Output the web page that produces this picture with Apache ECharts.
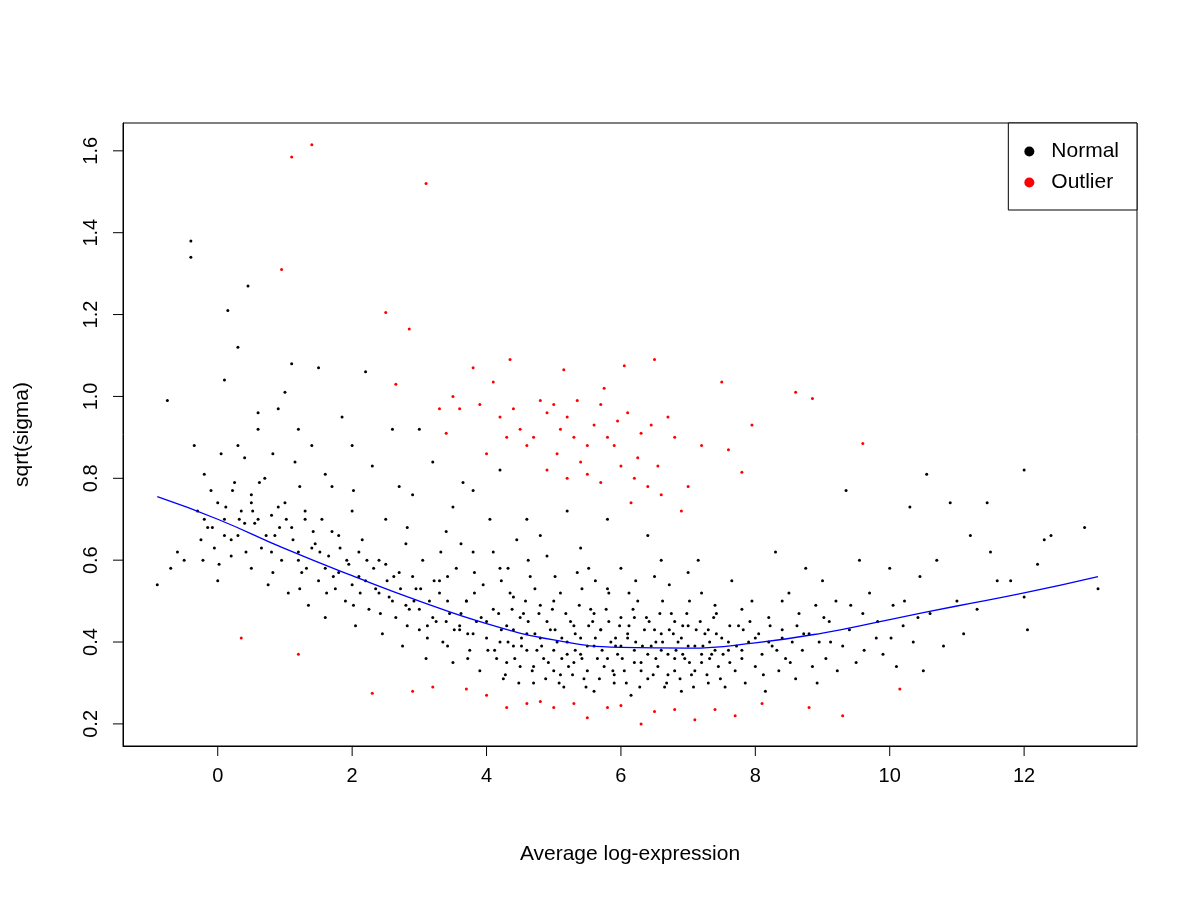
<!DOCTYPE html>
<html><head><meta charset="utf-8">
<script src="https://cdn.jsdelivr.net/npm/echarts@6/dist/echarts.min.js"></script>
<style>html,body{margin:0;background:#fff}#c{width:1200px;height:900px}</style>
</head><body><div id="c"></div>
<script>
const xTicks = [0,2,4,6,8,10,12];
const yTicks = [0.2,0.4,0.6,0.8,1.0,1.2,1.4,1.6];
const trend = [[-0.9,0.755],[0,0.70],[1,0.628],[2,0.562],[3,0.50],[4,0.445],[5,0.405],[6,0.387],[7,0.385],[8,0.398],[9,0.422],[10,0.455],[11,0.488],[12,0.52],[13.1,0.56]];
const outlier = [[1.1,1.585],[1.4,1.615],[3.1,1.52],[0.95,1.31],[2.5,1.205],[2.85,1.165],[2.65,1.03],[4.35,1.09],[3.8,1.07],[5.15,1.065],[6.05,1.075],[6.5,1.09],[7.5,1.035],[8.6,1.01],[8.85,0.995],[7.95,0.93],[9.6,0.885],[7.8,0.815],[0.35,0.41],[1.2,0.37],[2.3,0.275],[2.9,0.28],[3.2,0.29],[3.7,0.285],[4.0,0.27],[4.3,0.24],[4.6,0.25],[4.8,0.255],[5.0,0.24],[5.3,0.25],[5.5,0.215],[5.8,0.24],[6.0,0.245],[6.3,0.2],[6.5,0.23],[6.8,0.235],[7.1,0.21],[7.4,0.235],[7.7,0.22],[8.1,0.25],[8.8,0.24],[9.3,0.22],[10.15,0.285],
[3.5,1.0],[3.6,0.97],[3.9,0.98],[4.1,1.035],[4.2,0.95],[4.4,0.97],[4.5,0.92],[4.6,0.88],[4.7,0.9],[4.8,0.99],[4.9,0.96],[5.0,0.98],[5.05,0.86],[5.1,0.92],[5.2,0.95],[5.3,0.9],[5.35,0.99],[5.4,0.84],[5.5,0.81],[5.6,0.93],[5.7,0.98],[5.75,1.02],[5.8,0.9],[5.9,0.88],[5.95,0.94],[6.0,0.83],[6.1,0.96],[6.2,0.8],[6.25,0.85],[6.3,0.91],[6.4,0.78],[6.45,0.93],[6.55,0.83],[6.6,0.76],[6.7,0.95],[6.8,0.9],[7.0,0.78],[7.2,0.88],[4.0,0.86],[4.3,0.9],[3.3,0.97],[3.4,0.91],[5.5,0.88],[6.9,0.72],[7.6,0.87],[4.9,0.82],[5.2,0.8],[6.15,0.74],[5.7,0.79]];
const normal = [
[-0.9,0.54],[-0.75,0.99],[-0.7,0.58],[-0.6,0.62],[-0.5,0.6],[-0.4,1.38],[-0.4,1.34],[-0.35,0.88],[-0.3,0.72],[-0.25,0.65],[-0.2,0.81],[-0.15,0.68],[-0.1,0.77],[-0.05,0.63],[0,0.74],[0,0.55],[0.05,0.86],[0.1,0.7],[0.1,1.04],[0.15,1.21],[0.2,0.61],[0.25,0.79],[0.3,1.12],[0.3,0.66],[0.35,0.72],[0.4,0.85],[0.45,1.27],[0.5,0.58],[0.5,0.76],[0.55,0.69],[0.6,0.92],[0.65,0.63],[0.7,0.8],[0.75,0.54],[0.8,0.71],[0.85,0.66],[0.9,0.97],[0.95,0.6],[1.0,0.74],[1.0,1.01],[1.05,0.52],[1.1,0.68],[1.1,1.08],[1.15,0.84],[1.2,0.62],[1.25,0.57],[1.3,0.72],[1.35,0.49],[1.4,0.88],[1.45,0.64],[1.5,1.07],[1.5,0.55],[1.55,0.7],[1.6,0.46],[1.65,0.61],[1.7,0.78],[1.75,0.53],[1.8,0.66],[1.85,0.95],[1.9,0.5],[1.95,0.59],[2.0,0.72],[2.05,0.44],[2.1,0.56],[2.15,0.65],[2.2,1.06],[2.25,0.48],[2.3,0.83],[2.35,0.53],[2.4,0.6],[2.45,0.42],[2.5,0.7],[2.55,0.51],[2.6,0.92],[2.65,0.46],[2.7,0.57],[2.75,0.39],[2.8,0.64],[2.85,0.48],[2.9,0.76],[2.95,0.53],[3.0,0.43],[3.05,0.6],[3.1,0.36],[3.15,0.5],[3.2,0.84],[3.25,0.45],[3.3,0.55],[3.35,0.4],[3.4,0.67],[3.45,0.47],[3.5,0.35],[3.55,0.58],[3.6,0.43],[3.65,0.79],[3.7,0.5],[3.75,0.38],[3.8,0.62],[3.85,0.45],[3.9,0.33],[3.95,0.54],[4.0,0.41],[4.05,0.7],[4.1,0.48],[4.15,0.36],[4.2,0.58],[4.25,0.31],[4.3,0.44],[4.35,0.52],[4.4,0.39],[4.45,0.65],[4.5,0.34],[4.55,0.47],[4.6,0.42],[4.65,0.56],[4.7,0.3],[4.75,0.38],[4.8,0.49],[4.85,0.36],[4.9,0.61],[4.95,0.43],[5.0,0.33],[5.05,0.4],[5.1,0.52],[5.15,0.29],[5.2,0.37],[5.25,0.45],[5.3,0.35],[5.35,0.57],[5.4,0.41],[5.45,0.31],[5.5,0.39],[5.55,0.48],[5.6,0.28],[5.65,0.36],[5.7,0.43],[5.75,0.34],[5.8,0.53],[5.85,0.4],[5.9,0.3],[5.95,0.37],[6.0,0.46],[6.05,0.33],[6.1,0.41],[6.15,0.27],[6.2,0.38],[6.25,0.5],[6.3,0.35],[6.35,0.43],[6.4,0.31],[6.45,0.39],[6.5,0.56],[6.55,0.34],[6.6,0.42],[6.65,0.29],[6.7,0.37],[6.75,0.47],[6.8,0.33],[6.85,0.4],[6.9,0.28],[6.95,0.36],[7.0,0.44],[7.05,0.32],[7.1,0.39],[7.15,0.6],[7.2,0.35],[7.25,0.42],[7.3,0.3],[7.35,0.37],[7.4,0.49],[7.45,0.34],[7.5,0.41],[7.55,0.29],[7.6,0.38],[7.65,0.55],[7.7,0.33],[7.75,0.44],[7.8,0.36],[7.85,0.3],[7.9,0.4],[7.95,0.5],[8.0,0.34],[8.05,0.42],[8.1,0.37],[8.15,0.28],[8.2,0.46],[8.25,0.39],[8.3,0.62],[8.35,0.33],[8.4,0.43],[8.45,0.36],[8.5,0.52],[8.55,0.4],[8.6,0.31],[8.65,0.47],[8.7,0.38],[8.75,0.58],[8.8,0.42],[8.85,0.34],[8.9,0.49],[8.95,0.4],[9.0,0.55],[9.05,0.36],[9.1,0.45],[9.2,0.5],[9.3,0.39],[9.35,0.77],[9.4,0.43],[9.5,0.35],[9.55,0.6],[9.6,0.47],[9.7,0.52],[9.8,0.41],[9.9,0.37],[10.0,0.58],[10.05,0.49],[10.1,0.34],[10.2,0.44],[10.3,0.73],[10.35,0.4],[10.45,0.56],[10.5,0.33],[10.55,0.81],[10.6,0.47],[10.7,0.6],[10.8,0.39],[10.9,0.74],[11.0,0.5],[11.1,0.42],[11.2,0.66],[11.3,0.48],[11.45,0.74],[11.5,0.62],[11.6,0.55],[11.8,0.55],[12.0,0.82],[12.05,0.43],[12.0,0.51],[12.2,0.59],[12.3,0.65],[12.4,0.66],[12.9,0.68],[13.1,0.53],
[0.2,0.65],[0.4,0.69],[0.6,0.7],[0.8,0.62],[1.2,0.6],[1.4,0.63],[1.6,0.58],[1.8,0.57],[2.0,0.54],[2.2,0.55],[2.4,0.52],[2.6,0.5],[2.8,0.49],[3.0,0.48],[3.2,0.46],[3.4,0.45],[3.6,0.44],[3.8,0.42],[4.0,0.45],[4.2,0.4],[4.4,0.43],[4.6,0.38],[4.8,0.41],[5.0,0.38],[5.2,0.4],[5.4,0.37],[5.6,0.39],[5.8,0.36],[6.0,0.39],[6.2,0.35],[6.4,0.37],[6.6,0.38],[6.8,0.36],[7.0,0.39],[7.2,0.37],[7.4,0.38],[7.6,0.4],[7.8,0.38],[8.0,0.41],[8.2,0.4],[8.4,0.41],[4.3,0.35],[4.7,0.34],[5.1,0.32],[5.5,0.33],[5.9,0.32],[6.3,0.33],[6.7,0.32],[7.1,0.33],[4.5,0.46],[4.9,0.45],[5.3,0.44],[5.7,0.43],[6.1,0.42],[6.5,0.43],[6.9,0.41],[7.3,0.43],[4.4,0.51],[5.0,0.5],[5.6,0.47],[6.2,0.46],[6.8,0.45],[3.3,0.52],[3.7,0.5],[2.9,0.56],[2.5,0.59],[2.1,0.62],[1.7,0.67],[1.3,0.7],[0.9,0.73],[0.5,0.74],[0.1,0.66],[-0.2,0.7],[3.5,0.73],[4.1,0.62],[4.8,0.66],[5.4,0.63],[6.0,0.58],[6.6,0.6],[7.2,0.52],[7.8,0.48],[8.4,0.5],[3.0,0.92],[2.0,0.88],[1.2,0.92],[0.6,0.96],[4.2,0.82],[3.8,0.77],[2.7,0.78],[1.6,0.81],[0.3,0.88],[5.8,0.7],[6.4,0.66],[7.0,0.57],[5.2,0.72],[4.6,0.7],
[4.12,0.38],[4.22,0.43],[4.32,0.4],[4.42,0.36],[4.52,0.41],[4.62,0.45],[4.72,0.42],[4.82,0.39],[4.92,0.35],[5.02,0.43],[5.12,0.41],[5.22,0.34],[5.32,0.42],[5.42,0.36],[5.52,0.44],[5.62,0.41],[5.72,0.38],[5.82,0.45],[5.92,0.41],[6.02,0.36],[6.12,0.44],[6.22,0.4],[6.32,0.39],[6.42,0.45],[6.52,0.36],[6.62,0.4],[6.72,0.43],[6.82,0.38],[6.92,0.44],[7.02,0.35],[7.12,0.43],[7.22,0.39],[7.32,0.36],[7.42,0.42],[7.52,0.37],[7.62,0.35],[7.72,0.39],[4.18,0.47],[4.38,0.48],[4.58,0.5],[4.78,0.47],[4.98,0.48],[5.18,0.47],[5.38,0.49],[5.58,0.45],[5.78,0.48],[5.98,0.44],[6.18,0.48],[6.38,0.46],[6.58,0.47],[6.78,0.42],[6.98,0.47],[7.18,0.45],[7.38,0.46],[4.28,0.32],[4.48,0.3],[4.68,0.33],[4.88,0.31],[5.08,0.3],[5.28,0.32],[5.48,0.29],[5.68,0.31],[5.88,0.33],[6.08,0.3],[6.28,0.29],[6.48,0.32],[6.68,0.3],[6.88,0.31],[7.08,0.29],[7.28,0.32],[7.48,0.31],[3.62,0.47],[3.72,0.42],[3.82,0.52],[3.92,0.46],[3.42,0.5],[3.52,0.43],[3.22,0.55],[3.12,0.44],[2.92,0.5],[2.72,0.53],[2.52,0.55],[2.32,0.58],[2.12,0.52],[1.92,0.6],[1.72,0.56],[1.52,0.62],[1.32,0.58],[1.12,0.65],[0.92,0.68],[0.72,0.66],[0.52,0.72],[0.32,0.7],[0.12,0.73],[-0.08,0.68],[0.22,0.77],[0.62,0.79],[1.02,0.7],[1.42,0.67],[1.82,0.63],[2.22,0.6],[2.62,0.56],[3.02,0.53],[3.42,0.56],[3.82,0.57],[4.22,0.55],[4.62,0.6],[5.02,0.56],[5.42,0.53],[5.82,0.52],[6.22,0.55],[6.62,0.5],[7.02,0.5],[7.42,0.47],[7.82,0.43],[8.22,0.44],[8.62,0.44],[9.02,0.46],[9.42,0.49],[9.82,0.45],[10.22,0.5],[8.12,0.32],[8.52,0.35],[8.92,0.3],[9.22,0.33],[9.62,0.38],[10.02,0.41],[10.42,0.46],[7.92,0.45],[8.32,0.38],[8.72,0.42],[9.12,0.4],[5.52,0.58],[6.12,0.52],[6.72,0.54],[4.32,0.58],[3.62,0.64],[2.82,0.68],[2.02,0.77],[1.22,0.78],[0.82,0.86],[3.32,0.62],[4.72,0.53],[5.62,0.55],[7.62,0.44],[7.32,0.4],[5.12,0.36],[5.32,0.38],[5.92,0.39],[6.52,0.4],[6.92,0.37],[4.52,0.39],[4.02,0.38],[3.72,0.36],[3.42,0.39],[3.12,0.41],[2.82,0.44],[2.42,0.47],[2.02,0.49],[1.62,0.52],[1.22,0.53],[0.82,0.57],[0.42,0.62],[-0.22,0.6],[0.02,0.59]];

const X_MIN = -1.41, X_MAX = 13.68, Y_MIN = 0.146, Y_MAX = 1.668;
const chart = echarts.init(document.getElementById('c'));
const font = 'Liberation Sans, Arial, sans-serif';
chart.setOption({
  backgroundColor:'#fff',
  animation:false,
  grid:{left:123,right:63,top:123,bottom:154,show:true,borderColor:'#000',borderWidth:1,backgroundColor:'transparent'},
  legend:{data:[{name:'Normal'},{name:'Outlier'}],orient:'vertical',right:63,top:123,icon:'circle',itemWidth:10,itemHeight:10,itemGap:10,
    borderColor:'#000',borderWidth:1,borderRadius:0,padding:[18,18,17,16],textStyle:{fontFamily:font,fontSize:21,color:'#000',padding:[0,0,0,12]},backgroundColor:'#fff'},
  xAxis:{type:'value',min:X_MIN,max:X_MAX,splitNumber:7,name:'Average log-expression',nameLocation:'middle',nameGap:98,
    nameTextStyle:{fontFamily:font,fontSize:21,color:'#000'},
    axisLine:{show:true,onZero:false,lineStyle:{color:'#000'}},splitLine:{show:false},
    axisTick:{show:false},
    axisLabel:{fontFamily:font,fontSize:20,color:'#000',margin:20,showMinLabel:false,showMaxLabel:false,
      formatter:v=>xTicks.some(t=>Math.abs(t-v)<1e-6)?String(v):''}},
  yAxis:{type:'value',min:Y_MIN,max:Y_MAX,splitNumber:8,name:'sqrt(sigma)',nameLocation:'middle',nameGap:90,nameRotate:90,
    nameTextStyle:{fontFamily:font,fontSize:21,color:'#000'},
    axisLine:{show:true,onZero:false,lineStyle:{color:'#000'}},splitLine:{show:false},
    axisTick:{show:false},
    axisLabel:{fontFamily:font,fontSize:20,color:'#000',rotate:90,margin:22,showMinLabel:false,showMaxLabel:false,
      formatter:v=>yTicks.some(t=>Math.abs(t-v)<1e-6)?v.toFixed(1):''}},
  series:[
    {name:'Normal',type:'scatter',data:normal,symbolSize:3,itemStyle:{color:'#000',opacity:1}},
    {name:'Outlier',type:'scatter',data:outlier,symbolSize:3,itemStyle:{color:'#ff0000',opacity:1}},
    {name:'trend',type:'line',data:trend,smooth:true,showSymbol:false,lineStyle:{color:'#0000ff',width:1.3},z:5},
    {name:'xticks',type:'custom',coordinateSystem:'cartesian2d',clip:false,silent:true,z:10,
      data:xTicks.map(t=>[t,Y_MIN]),
      renderItem:(params,api)=>{const p=api.coord([api.value(0),api.value(1)]);
        return {type:'line',shape:{x1:p[0],y1:p[1],x2:p[0],y2:p[1]+10},style:{stroke:'#000',lineWidth:1}};}},
    {name:'yticks',type:'custom',coordinateSystem:'cartesian2d',clip:false,silent:true,z:10,
      data:yTicks.map(t=>[X_MIN,t]),
      renderItem:(params,api)=>{const p=api.coord([api.value(0),api.value(1)]);
        return {type:'line',shape:{x1:p[0],y1:p[1],x2:p[0]-10,y2:p[1]},style:{stroke:'#000',lineWidth:1}};}}
  ]
});
</script></body></html>
